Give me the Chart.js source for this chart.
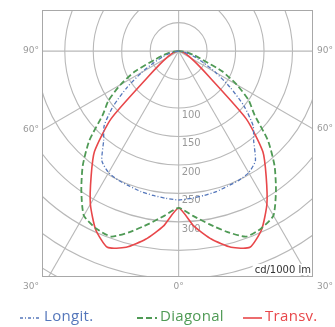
<!DOCTYPE html>
<html>
<head>
<meta charset="utf-8">
<script src="https://cdn.jsdelivr.net/npm/chart.js@4.4.1/dist/chart.umd.min.js"></script>
<style>
    html, body { margin: 0; padding: 0; background: #fff; }
    #wrap { width: 335px; height: 327px; }
</style>
</head>
<body>
<div id="wrap"><canvas id="myChart" width="335" height="327"></canvas></div>
<script>
// angles in degrees, 0 = straight down, negative = left half
const angles = [-90, -85, -80, -75, -70, -65, -60, -55, -50, -45, -40, -35, -30, -25, -20, -15, -10, -5, 0,
                5, 10, 15, 20, 25, 30, 35, 40, 45, 50, 55, 60, 65, 70, 75, 80, 85, 90];
// luminous intensity, cd/1000 lm
const longit = [0, 4, 10, 18, 30, 48, 75, 110, 150, 185, 205, 235, 246, 250, 252, 255, 257, 259, 261,
                259, 257, 255, 252, 250, 246, 235, 205, 185, 150, 110, 75, 48, 30, 18, 10, 4, 0];
const diagonal = [0, 7, 16, 28, 45, 85, 118, 150, 174, 222, 262, 298, 333, 343, 346, 328, 308, 290, 275,
                  290, 308, 328, 346, 343, 333, 298, 262, 222, 174, 150, 118, 85, 45, 28, 16, 7, 0];
const transv = [0, 2, 5, 8, 12, 17, 25, 40, 70, 168, 230, 268, 310, 345, 366, 356, 335, 308, 275,
                308, 335, 356, 366, 345, 310, 268, 230, 168, 70, 40, 25, 17, 12, 8, 5, 2, 0];

const seriesNames = ["Longit.", "Diagonal", "Transv."];
const ringValues = [50, 100, 150, 200, 250, 300, 350, 400, 450];
const ringLabels = [100, 150, 200, 250, 300];
const spokeAngles = [-90, -60, -30, 0, 30, 60, 90, 180];
const angleTicks = [-90, -60, -30, 0, 30, 60, 90];

const colors = ["#5577bb", "#4f9a55", "#e8474a"];

function toXY(vals) {
    return angles.map(function (a, i) {
        var t = a * Math.PI / 180;
        return { x: vals[i] * Math.sin(t), y: -vals[i] * Math.cos(t) };
    });
}

// polar grid, labels, legend
const polarGrid = {
    id: 'polarGrid',
    beforeDatasetsDraw(chart) {
        const { ctx, chartArea: a, scales: { x, y } } = chart;
        const cx = x.getPixelForValue(0), cy = y.getPixelForValue(0);
        const k = x.getPixelForValue(100) - cx;
        ctx.save();
        ctx.beginPath();
        ctx.rect(a.left, a.top, a.right - a.left, a.bottom - a.top);
        ctx.clip();
        ctx.strokeStyle = "#b8b8b8";
        ctx.lineWidth = 1.1;
        ringValues.forEach(function (v) {
            ctx.beginPath();
            ctx.arc(cx, cy, v * k / 100, 0, Math.PI * 2);
            ctx.stroke();
        });
        spokeAngles.forEach(function (d) {
            var t = d * Math.PI / 180;
            ctx.beginPath();
            ctx.moveTo(cx, cy);
            ctx.lineTo(x.getPixelForValue(1000 * Math.sin(t)), y.getPixelForValue(-1000 * Math.cos(t)));
            ctx.stroke();
        });
        // ring values along the 0° line
        ctx.fillStyle = "#999";
        ctx.font = "10px 'DejaVu Sans'";
        ctx.textAlign = "left";
        ctx.textBaseline = "top";
        ringLabels.forEach(function (v) {
            ctx.fillText(String(v), cx + 3, y.getPixelForValue(-v) + 2);
        });
        ctx.restore();

        ctx.save();
        ctx.strokeStyle = "#a8a8a8";
        ctx.lineWidth = 1;
        ctx.strokeRect(a.left + 0.5, a.top + 0.5, a.right - a.left - 1, a.bottom - a.top - 1);
        ctx.restore();
    },
    afterDraw(chart) {
        const { ctx, chartArea: a, scales: { x, y } } = chart;
        const cx = x.getPixelForValue(0), cy = y.getPixelForValue(0);
        ctx.save();
        // angle labels where the spokes leave the frame
        ctx.fillStyle = "#999";
        ctx.font = "9px 'DejaVu Sans'";
        ctx.textBaseline = "middle";
        angleTicks.forEach(function (d) {
            var t = d * Math.PI / 180;
            var sx = Math.sin(t), sy = Math.cos(t);
            var txt = Math.abs(d) + "°";
            if (d == 0) {
                ctx.textAlign = "center";
                ctx.fillText(txt, cx, a.bottom + 10);
                return;
            }
            var dist = Math.abs((sx < 0 ? cx - a.left : a.right - cx) / sx);
            var py = cy + dist * sy;
            if (py > a.bottom) py = a.bottom + 10;
            if (sx < 0) {
                ctx.textAlign = "right";
                ctx.fillText(txt, a.left - 3, py);
            } else {
                ctx.textAlign = "left";
                ctx.fillText(txt, a.right + 4, py);
            }
        });

        // unit label
        ctx.font = "10px 'DejaVu Sans'";
        ctx.textAlign = "right";
        var uw = ctx.measureText("cd/1000 lm").width;
        ctx.fillStyle = "#fff";
        ctx.fillRect(a.right - uw - 4, a.bottom - 13, uw + 3, 11);
        ctx.fillStyle = "#333";
        ctx.fillText("cd/1000 lm", a.right - 2, a.bottom - 7);

        // legend
        var items = [
            { x0: 20, x1: 41, tx: 44, dash: [3, 2, 1, 2], w: 1.4 },
            { x0: 137, x1: 157, tx: 160, dash: [6, 3], w: 1.8 },
            { x0: 243, x1: 262, tx: 265, dash: [], w: 1.6 }
        ];
        ctx.font = "15px 'Open Sans'";
        ctx.letterSpacing = "0.3px";
        ctx.textAlign = "left";
        ctx.textBaseline = "middle";
        items.forEach(function (it, i) {
            ctx.strokeStyle = colors[i];
            ctx.lineWidth = it.w;
            ctx.setLineDash(it.dash);
            ctx.beginPath();
            ctx.moveTo(it.x0, 318);
            ctx.lineTo(it.x1, 318);
            ctx.stroke();
            ctx.fillStyle = colors[i];
            ctx.fillText(seriesNames[i], it.tx, 317);
        });
        ctx.restore();
    }
};

var ctx = document.getElementById('myChart').getContext('2d');
var myChart = new Chart(ctx, {
    type: 'scatter',
    data: {
        datasets: [{
            label: seriesNames[0],
            data: toXY(longit),
            borderColor: colors[0],
            borderWidth: 1.3,
            borderDash: [4, 2, 1, 2],
            showLine: true,
            pointRadius: 0,
            tension: 0.2
        }, {
            label: seriesNames[1],
            data: toXY(diagonal),
            borderColor: colors[1],
            borderWidth: 1.8,
            borderDash: [6, 3],
            showLine: true,
            pointRadius: 0,
            tension: 0.2
        }, {
            label: seriesNames[2],
            data: toXY(transv),
            borderColor: colors[2],
            borderWidth: 1.6,
            showLine: true,
            pointRadius: 0,
            tension: 0.2
        }]
    },
    options: {
        responsive: false,
        animation: false,
        layout: { padding: { left: 42, top: 10, right: 22, bottom: 50 } },
        scales: {
            x: { type: 'linear', min: -240, max: 236, display: false },
            y: { type: 'linear', min: -396, max: 72, display: false }
        },
        plugins: {
            legend: { display: false },
            tooltip: { enabled: false }
        }
    },
    plugins: [polarGrid]
});
</script>
</body>
</html>
